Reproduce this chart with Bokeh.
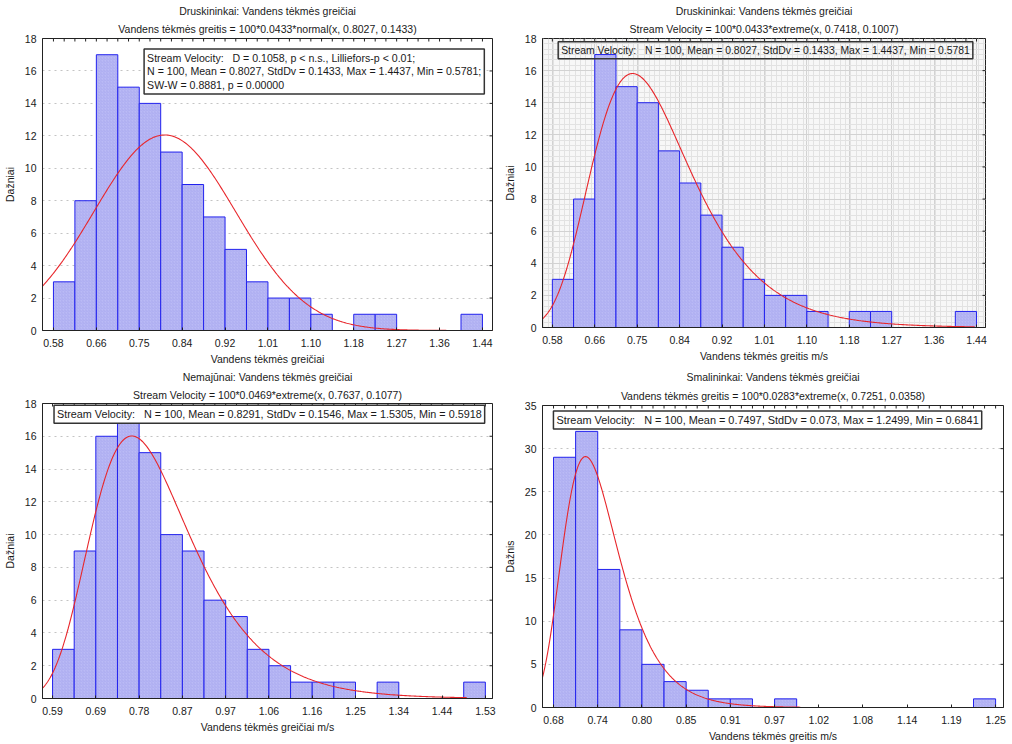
import numpy as np
from bokeh.plotting import figure
from bokeh.layouts import column, row
from bokeh.models import FixedTicker, Range1d, Title, Label
from bokeh.embed import file_html
from bokeh.resources import INLINE

FONT = "Liberation Sans"
NB = "\u00a0"

# ---------------- data ----------------
counts_druskininkai = [3, 8, 17, 15, 14, 11, 9, 7, 5, 3, 2, 2, 1, 0, 1, 1, 0, 0, 0, 1]
counts_nemajunai = [3, 9, 16, 17, 15, 10, 9, 6, 5, 3, 2, 1, 1, 1, 0, 1, 0, 0, 0, 1]
counts_smalininkai = [29, 32, 16, 9, 5, 3, 2, 1, 1, 0, 1, 0, 0, 0, 0, 0, 0, 0, 0, 1]

min_druskininkai, max_druskininkai = 0.5781, 1.4437
min_nemajunai, max_nemajunai = 0.5918, 1.5305
min_smalininkai, max_smalininkai = 0.6841, 1.2499

ticks_druskininkai = ["0.58", "0.66", "0.75", "0.84", "0.92", "1.01", "1.10", "1.18", "1.27", "1.36", "1.44"]
ticks_nemajunai = ["0.59", "0.69", "0.78", "0.87", "0.97", "1.06", "1.16", "1.25", "1.34", "1.44", "1.53"]
ticks_smalininkai = ["0.68", "0.74", "0.80", "0.85", "0.91", "0.97", "1.02", "1.08", "1.14", "1.19", "1.25"]

# fitted curves: kind, scale, location, spread
fit_p1 = ("normal", 100 * 0.0433, 0.8027, 0.1433)
fit_p2 = ("extreme", 100 * 0.0433, 0.7418, 0.1007)
fit_p3 = ("extreme", 100 * 0.0469, 0.7637, 0.1077)
fit_p4 = ("extreme", 100 * 0.0283, 0.7251, 0.0358)

titles = [
    ("Druskininkai: Vandens tėkmės greičiai", "Vandens tėkmės greitis = 100*0.0433*normal(x, 0.8027, 0.1433)"),
    ("Druskininkai: Vandens tėkmės greičiai", "Stream Velocity = 100*0.0433*extreme(x, 0.7418, 0.1007)"),
    ("Nemajūnai: Vandens tėkmės greičiai", "Stream Velocity = 100*0.0469*extreme(x, 0.7637, 0.1077)"),
    ("Smalininkai: Vandens tėkmės greičiai", "Vandens tėkmės greitis = 100*0.0283*extreme(x, 0.7251, 0.0358)"),
]
xlabels = ["Vandens tėkmės greičiai", "Vandens tėkmės greitis m/s",
           "Vandens tėkmės greičiai m/s", "Vandens tėkmės greitis m/s"]
ylabels = ["Dažniai", "Dažniai", "Dažniai", "Dažnis"]
stats = [
    "Stream Velocity:" + NB + NB + " D = 0.1058, p < n.s., Lilliefors-p < 0.01;\nN = 100, Mean = 0.8027, StdDv = 0.1433, Max = 1.4437, Min = 0.5781;\nSW-W = 0.8881, p = 0.00000",
    "Stream Velocity:" + NB + NB + " N = 100, Mean = 0.8027, StdDv = 0.1433, Max = 1.4437, Min = 0.5781",
    "Stream Velocity:" + NB + NB + " N = 100, Mean = 0.8291, StdDv = 0.1546, Max = 1.5305, Min = 0.5918",
    "Stream Velocity:" + NB + NB + " N = 100, Mean = 0.7497, StdDv = 0.073, Max = 1.2499, Min = 0.6841",
]


def pdf(kind, x, a, b):
    if kind == "normal":
        return np.exp(-0.5 * ((x - a) / b) ** 2) / (b * np.sqrt(2 * np.pi))
    z = (x - a) / b
    return np.exp(-z - np.exp(-z)) / b


def panel(idx, counts, vmin, vmax, tick_labels, fit, xr, yr, ystep, curve_x,
          w, h, borders, label_pos, label_size, title_gap, dense_grid=False):
    left_b, right_b, top_b, bottom_b = borders
    p = figure(width=w, height=h, x_range=Range1d(*xr), y_range=Range1d(*yr),
               output_backend="svg", toolbar_location=None, title=None,
               min_border_left=left_b, min_border_right=right_b,
               min_border_top=top_b, min_border_bottom=bottom_b,
               background_fill_color="white", border_fill_color="white")
    p.outline_line_color = "#222222"
    p.outline_line_width = 1

    n = len(counts)
    width = (vmax - vmin) / n
    lefts = [vmin + i * width for i in range(n)]
    rights = [vmin + (i + 1) * width for i in range(n)]

    major_x = [vmin + k * (vmax - vmin) / 10 for k in range(11)]
    major_y = list(np.arange(yr[0], yr[1] + 1e-9, ystep))

    if dense_grid:
        minor_x = list(np.arange(xr[0] - 0.02, xr[1] + 0.02, (vmax - vmin) / 80))
        minor_y = list(np.arange(0, yr[1] + 1e-9, ystep / 6))
        p.xaxis.ticker = FixedTicker(ticks=major_x, minor_ticks=minor_x)
        p.yaxis.ticker = FixedTicker(ticks=major_y, minor_ticks=minor_y)
        p.background_fill_color = "#f7f7f7"
        for g in (p.xgrid[0], p.ygrid[0]):
            g.grid_line_color = "#d2d2d2"
            g.grid_line_width = 1
            g.minor_grid_line_color = "#e2e2e2"
            g.minor_grid_line_width = 1
    else:
        p.xaxis.ticker = FixedTicker(ticks=major_x)
        p.yaxis.ticker = FixedTicker(ticks=major_y)
        p.xgrid.grid_line_color = None
        p.ygrid.grid_line_color = "#c4c4c4"
        p.ygrid.grid_line_dash = "dotted"
        p.ygrid.grid_line_width = 1

    p.xaxis.major_label_overrides = {t: lab for t, lab in zip(major_x, tick_labels)}

    for ax in (p.xaxis[0], p.yaxis[0]):
        ax.axis_line_color = "#222222"
        ax.major_tick_in = 3
        ax.major_tick_out = 0
        ax.minor_tick_in = 0
        ax.minor_tick_out = 0
        ax.major_tick_line_color = "#222222"
        ax.major_label_text_font = FONT
        ax.major_label_text_font_size = "10.5px"
        ax.major_label_text_color = "#1a1a1a"
        ax.axis_label_text_font = FONT
        ax.axis_label_text_font_size = "10.5px"
        ax.axis_label_text_font_style = "normal"
        ax.axis_label_text_color = "#1a1a1a"
    p.xaxis.major_label_standoff = 8
    p.xaxis.axis_label_standoff = 3
    p.xaxis.axis_label = xlabels[idx]
    p.yaxis.axis_label = ylabels[idx]
    p.yaxis.major_tick_in = 0
    p.yaxis.major_label_standoff = 6
    p.yaxis.axis_label_standoff = 6

    # small inward ticks on top and right frame edges
    frame_w = w - left_b - right_b
    frame_h = h - top_b - bottom_b
    dy = 3.0 * (yr[1] - yr[0]) / frame_h
    dx = 3.0 * (xr[1] - xr[0]) / frame_w
    top_ticks = [vmin + k * (vmax - vmin) / 40 for k in range(41)]
    p.segment(x0=top_ticks, y0=[yr[1]] * len(top_ticks), x1=top_ticks,
              y1=[yr[1] - dy] * len(top_ticks), line_color="#222222", line_width=1)
    p.segment(x0=[xr[1]] * len(major_y), y0=major_y, x1=[xr[1] - dx] * len(major_y),
              y1=major_y, line_color="#222222", line_width=1)

    p.add_layout(Title(text=titles[idx][1], align="center", text_font=FONT,
                       text_font_size="10.5px", text_font_style="normal",
                       text_color="#1a1a1a", standoff=title_gap), "above")
    p.add_layout(Title(text=titles[idx][0], align="center", text_font=FONT,
                       text_font_size="10.5px", text_font_style="normal",
                       text_color="#1a1a1a", standoff=2), "above")

    p.quad(left=lefts, right=rights, top=counts, bottom=0,
           fill_color="#babaf6", fill_alpha=1.0,
           hatch_pattern="/", hatch_color="#a4a4ec", hatch_scale=3, hatch_weight=0.6,
           line_color="#2222ee", line_width=1)

    kind, scale, a, b = fit
    xs = np.linspace(curve_x[0], curve_x[1], 400)
    p.line(xs, scale * pdf(kind, xs, a, b), line_color="#e8262b", line_width=1.1)

    lab = Label(x=label_pos[0], y=label_pos[1], text=stats[idx],
                text_font=FONT, text_font_size=label_size, text_color="#1a1a1a",
                text_align="left", text_baseline="top", text_line_height=1.12,
                padding=3, border_line_color="#333333", border_line_width=1.5,
                background_fill_color="white" if not dense_grid else None)
    p.add_layout(lab)
    return p


p1 = panel(0, counts_druskininkai, min_druskininkai, max_druskininkai, ticks_druskininkai, fit_p1,
           (0.556, 1.464), (0, 18), 2, (0.556, 1.464), 500, 367, (40, 8, 38, 37),
           (0.761, 17.35), "10.6px", 7)
p2 = panel(1, counts_druskininkai, min_druskininkai, max_druskininkai, ticks_druskininkai, fit_p2,
           (0.558, 1.462), (0, 18), 2, (0.558, 1.44), 512, 367, (39, 27, 38, 40),
           (0.590, 17.8), "10.4px", 7, dense_grid=True)
p3 = panel(2, counts_nemajunai, min_nemajunai, max_nemajunai, ticks_nemajunai, fit_p3,
           (0.570, 1.546), (0, 18), 2, (0.570, 1.49), 500, 377, (40, 8, 35, 46),
           (0.595, 17.9), "10.8px", 6)
p4 = panel(3, counts_smalininkai, min_smalininkai, max_smalininkai, ticks_smalininkai, fit_p4,
           (0.670, 1.260), (0, 35), 5, (0.670, 1.0), 512, 377, (40, 9, 38, 37),
           (0.684, 34.35), "10.9px", 8)

layout = column(row(column(p1), column(p2)), row(column(p3), column(p4)))
open("out.html", "w").write(file_html(layout, INLINE))
